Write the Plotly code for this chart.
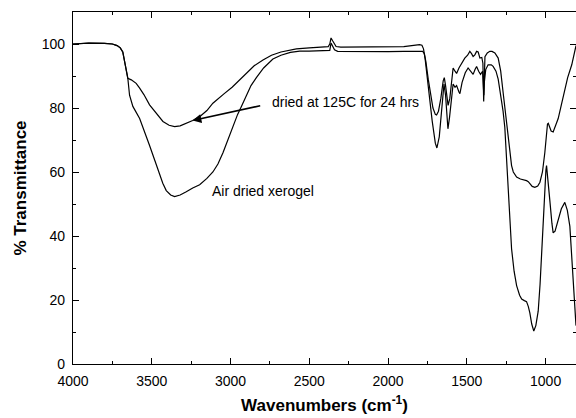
import plotly.graph_objects as go

# ---- data ----
wn_dried125 = [4000, 3900, 3800, 3750, 3720, 3700, 3684, 3662, 3652, 3630, 3599, 3577, 3550, 3514, 3470,
               3429, 3390, 3355, 3320, 3281, 3240, 3196, 3150, 3112, 3090, 3040, 2990, 2942, 2900, 2850,
               2794, 2740, 2680, 2582, 2500, 2450, 2380, 2370, 2362, 2352, 2340, 2330, 2300, 2200, 2100,
               2000, 1900, 1850, 1820, 1800, 1785, 1775, 1765, 1750, 1735, 1720, 1700, 1690, 1675, 1660,
               1645, 1635, 1620, 1610, 1595, 1587, 1575, 1565, 1550, 1544, 1530, 1510, 1492, 1475, 1460,
               1448, 1438, 1425, 1413, 1400, 1395, 1392, 1389, 1380, 1365, 1345, 1333, 1315, 1301, 1285,
               1270, 1259, 1245, 1227, 1216, 1200, 1184, 1165, 1152, 1135, 1121, 1110, 1100, 1088, 1075,
               1062, 1047, 1035, 1025, 1015, 1005, 998, 994, 985, 972, 960, 952, 940, 920, 900, 878, 862,
               846, 830, 814, 807]
t_dried125 = [100.0, 100.3, 100.2, 100.0, 99.5, 98.8, 97.5, 91.4, 89.3, 88.8, 87.7, 86.2, 84.2, 81.0, 78.2,
              75.8, 74.6, 74.2, 74.4, 75.2, 76.1, 77.3, 79.2, 81.5, 82.5, 84.5, 86.5, 88.8, 91.0, 93.2,
              95.0, 96.5, 97.5, 98.5, 98.8, 99.0, 99.2, 100.0, 101.9, 101.0, 99.8, 99.2, 99.0, 99.0, 99.0,
              99.0, 99.2, 99.5, 99.8, 99.8, 99.6, 98.5, 95.5, 89.0, 82.0, 76.0, 69.0, 67.5, 71.0, 80.0,
              87.5, 84.0, 73.5, 77.0, 85.0, 87.5, 86.5, 87.0, 85.0, 84.5, 88.0, 91.0, 92.5, 91.5, 90.5,
              92.0, 93.0, 91.5, 90.5, 91.5, 88.0, 84.0, 88.0, 92.0, 93.5, 93.5, 93.0, 91.5, 89.0, 84.0,
              79.0, 74.0, 62.0, 46.0, 36.0, 29.0, 24.5, 21.5, 20.3, 19.8, 19.5, 18.0, 16.0, 12.5, 10.3,
              12.0, 16.5, 25.0, 35.0, 46.0, 55.5, 60.5, 62.0, 58.0, 50.5, 44.0, 41.0, 41.5, 45.0, 48.5, 50.5, 48.0,
              43.0, 30.0, 15.5, 12.0]

wn_air = [4000, 3900, 3800, 3750, 3720, 3700, 3684, 3662, 3652, 3641, 3620, 3577, 3540, 3514, 3480,
          3450, 3430, 3408, 3380, 3355, 3320, 3281, 3240, 3196, 3150, 3112, 3080, 3048, 3006, 2985,
          2955, 2931, 2900, 2870, 2836, 2790, 2731, 2680, 2620, 2561, 2500, 2400, 2370, 2362, 2352,
          2340, 2320, 2200, 2100, 2000, 1900, 1800, 1780, 1770, 1760, 1745, 1730, 1715, 1700, 1692,
          1680, 1665, 1650, 1643, 1635, 1625, 1619, 1608, 1597, 1587, 1575, 1565, 1550, 1534, 1513,
          1495, 1481, 1470, 1460, 1449, 1438, 1428, 1417, 1405, 1398, 1393, 1390, 1385, 1370, 1354,
          1340, 1322, 1301, 1285, 1270, 1259, 1248, 1237, 1225, 1216, 1205, 1184, 1160, 1140, 1121,
          1110, 1100, 1085, 1068, 1050, 1036, 1020, 1005, 995, 988, 983, 975, 965, 952, 940, 920,
          900, 880, 860, 834, 820, 807]
t_air = [100.0, 100.3, 100.2, 100.0, 99.5, 98.8, 97.5, 91.4, 89.3, 84.0, 80.5, 76.7, 72.0, 68.3, 63.5,
         59.0, 56.5, 54.2, 52.8, 52.3, 52.8, 53.8, 55.0, 56.0, 58.0, 60.0, 62.5, 66.0, 71.5, 74.0,
         78.0, 80.5, 84.0, 87.0, 89.5, 92.5, 95.3, 96.5, 97.4, 97.8, 97.8, 97.8, 98.0, 100.3, 99.5,
         98.2, 97.7, 97.6, 97.6, 97.6, 97.7, 97.8, 97.7, 97.0, 94.5, 89.0, 84.0, 80.0, 78.0, 77.8,
         79.0, 83.0, 88.5, 89.5, 87.0, 82.0, 80.8, 83.0, 88.0, 92.5, 91.5, 90.8, 92.5, 94.0, 95.6,
         96.5, 97.7, 97.0, 96.1, 96.6, 97.7, 97.5, 95.6, 95.8, 94.0, 82.0, 88.0, 96.0, 97.2, 97.7,
         97.7, 97.2, 95.6, 91.5, 85.0, 80.5, 76.5, 72.5, 66.0, 62.0, 60.0, 58.4, 57.8, 57.6, 57.3,
         57.0, 56.3, 55.5, 55.2, 55.6, 56.8, 60.0, 66.0, 72.0, 75.0, 75.2, 74.0, 72.8, 72.5, 74.0, 76.7,
         81.0, 85.5, 89.5, 93.5, 96.5, 99.5]

x_tickvals = [4000, 3500, 3000, 2500, 2000, 1500, 1000]
y_tickvals = [0, 20, 40, 60, 80, 100]

label_dried = "dried at 125C for 24 hrs"
label_air = "Air dried xerogel"

FONT = "Arial, Liberation Sans, sans-serif"

fig = go.Figure()
fig.add_trace(go.Scatter(x=wn_dried125, y=t_dried125, mode="lines", name=label_dried,
                         line=dict(color="black", width=1.2)))
fig.add_trace(go.Scatter(x=wn_air, y=t_air, mode="lines", name=label_air,
                         line=dict(color="black", width=1.2)))

axis_common = dict(showline=True, linecolor="black", linewidth=1.3, mirror="ticks",
                   ticks="inside", ticklen=6, tickwidth=1.3, tickcolor="black",
                   showgrid=False, zeroline=False, automargin=False,
                   tickfont=dict(family=FONT, size=14, color="black"))

fig.update_xaxes(range=[4000, 807], tickvals=x_tickvals,
                 minor=dict(dtick=250, ticks="inside", ticklen=3, tickcolor="black", tickwidth=1.2),
                 title=dict(text="Wavenumbers (cm<sup>-1</sup>)",
                            font=dict(family=FONT, size=17, color="black", weight="bold"), standoff=11),
                 ticklabelstandoff=4,
                 **axis_common)
fig.update_yaxes(range=[0, 110], tickvals=y_tickvals,
                 minor=dict(dtick=10, ticks="inside", ticklen=3, tickcolor="black", tickwidth=1.2),
                 title=dict(text="% Transmittance",
                            font=dict(family=FONT, size=17, color="black", weight="bold"), standoff=10),
                 ticklabelstandoff=4,
                 **axis_common)

fig.add_annotation(x=3241, y=76.1, ax=2802, ay=80.8, axref="x", ayref="y", xref="x", yref="y",
                   text="", showarrow=True, arrowhead=2, arrowsize=1.1, arrowwidth=1.6,
                   arrowcolor="black")
fig.add_annotation(x=2750, y=81.8, xref="x", yref="y", text=label_dried, showarrow=False,
                   xanchor="left", yanchor="middle", font=dict(family=FONT, size=14, color="black"))
fig.add_annotation(x=3133, y=54.1, xref="x", yref="y", text=label_air, showarrow=False,
                   xanchor="left", yanchor="middle", font=dict(family=FONT, size=14, color="black"))

fig.update_layout(width=576, height=418, margin=dict(l=73, r=0, t=12, b=54),
                  paper_bgcolor="white", plot_bgcolor="white", showlegend=False)

# remove the default page margin so the 576x418 figure fills the window exactly
fig.write_html("out.html",
               config={"displayModeBar": False},
               post_script="document.body.style.margin='0';"
                           "document.documentElement.style.overflow='hidden';"
                           "document.body.style.overflow='hidden';")
